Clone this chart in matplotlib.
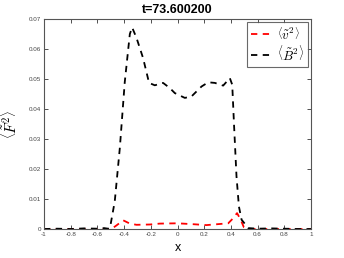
import matplotlib
matplotlib.use("Agg")
import matplotlib.pyplot as plt

title = "t=73.600200"
# <B^2> curve (black dashed)
xb = [-1.0, -0.9, -0.8, -0.7, -0.6, -0.55, -0.52, -0.506, -0.47, -0.432, -0.395, -0.357, -0.34,
      -0.307, -0.258, -0.213, -0.17, -0.108, -0.058, -0.02, 0.055, 0.105, 0.18, 0.23,
      0.28, 0.342, 0.392, 0.41, 0.424, 0.442, 0.46, 0.48, 0.53, 0.6, 0.7, 0.8, 0.9, 1.0]
yb = [0.0, 0.0001, 0.0, 0.0002, 0.0001, 0.0003, 0.0001, 0.0003, 0.0092, 0.027, 0.049, 0.065, 0.0672,
      0.0637, 0.057, 0.0487, 0.0479, 0.0487, 0.047, 0.0453, 0.0437, 0.0442, 0.0475, 0.0489,
      0.0487, 0.0478, 0.0503, 0.0481, 0.0342, 0.0175, 0.0075, 0.0031, 0.0003, 0.0001, 0.0002, 0.0001, 0.0, 0.0]
# <v^2> curve (red dashed)
xv = [-1.0, -0.8, -0.6, -0.495, -0.457, -0.407, -0.357, -0.307, -0.207, -0.133, 0.0,
      0.117, 0.217, 0.38, 0.417, 0.446, 0.472, 0.497, 0.53, 0.7, 1.0]
yv = [0.0, 0.0, 0.0, 0.0, 0.0012, 0.0029, 0.0018, 0.0014, 0.0015, 0.0018, 0.0019,
      0.0016, 0.0013, 0.0019, 0.0036, 0.0053, 0.0032, 0.0006, 0.0, 0.0, 0.0]

xticks = [-1, -0.8, -0.6, -0.4, -0.2, 0, 0.2, 0.4, 0.6, 0.8, 1]
xticklabels = ["-1", "-0.8", "-0.6", "-0.4", "-0.2", "0", "0.2", "0.4", "0.6", "0.8", "1"]
yticks = [0, 0.01, 0.02, 0.03, 0.04, 0.05, 0.06, 0.07]
yticklabels = ["0", "0.01", "0.02", "0.03", "0.04", "0.05", "0.06", "0.07"]

plt.rcParams['font.family'] = ['Liberation Sans', 'DejaVu Sans']
plt.rcParams['mathtext.fontset'] = 'cm'

fig = plt.figure(figsize=(3.44, 2.58), dpi=100)
ax = fig.add_axes([44/344, 1 - 229/258, (311-44)/344, (229-19)/258])

ax.plot(xv, yv, color='red', ls=(0, (3.5, 3)), lw=1.3, label=r'$\left\langle \tilde{v}^2 \right\rangle$')
ax.plot(xb, yb, color='black', ls=(0, (3.5, 3)), lw=1.3, label=r'$\left\langle \tilde{B}^2 \right\rangle$')

ax.set_xlim(-1, 1)
ax.set_ylim(0, 0.07)
ax.set_xticks(xticks)
ax.set_xticklabels(xticklabels)
ax.set_yticks(yticks)
ax.set_yticklabels(yticklabels)
ax.tick_params(direction='in', top=True, right=True, labelsize=4.5, length=3, width=0.6,
               colors='#333333', labelcolor='#444444', pad=2)
for s in ax.spines.values():
    s.set_color('#555555')
    s.set_linewidth(0.8)

ax.set_title(title, fontsize=9, fontweight='bold', pad=4)
ax.set_xlabel('x', fontsize=9, labelpad=4)
ax.set_ylabel(r'$\left\langle \tilde{F}^2 \right\rangle$', fontsize=11, labelpad=7)

leg = ax.legend(loc='upper right', fontsize=9.5, frameon=True, fancybox=False,
                edgecolor='#444444', handlelength=1.5, borderpad=0.3, labelspacing=0.15,
                handletextpad=0.5, borderaxespad=0.2)
leg.get_frame().set_linewidth(0.8)

fig.savefig('out.png', dpi=100)
